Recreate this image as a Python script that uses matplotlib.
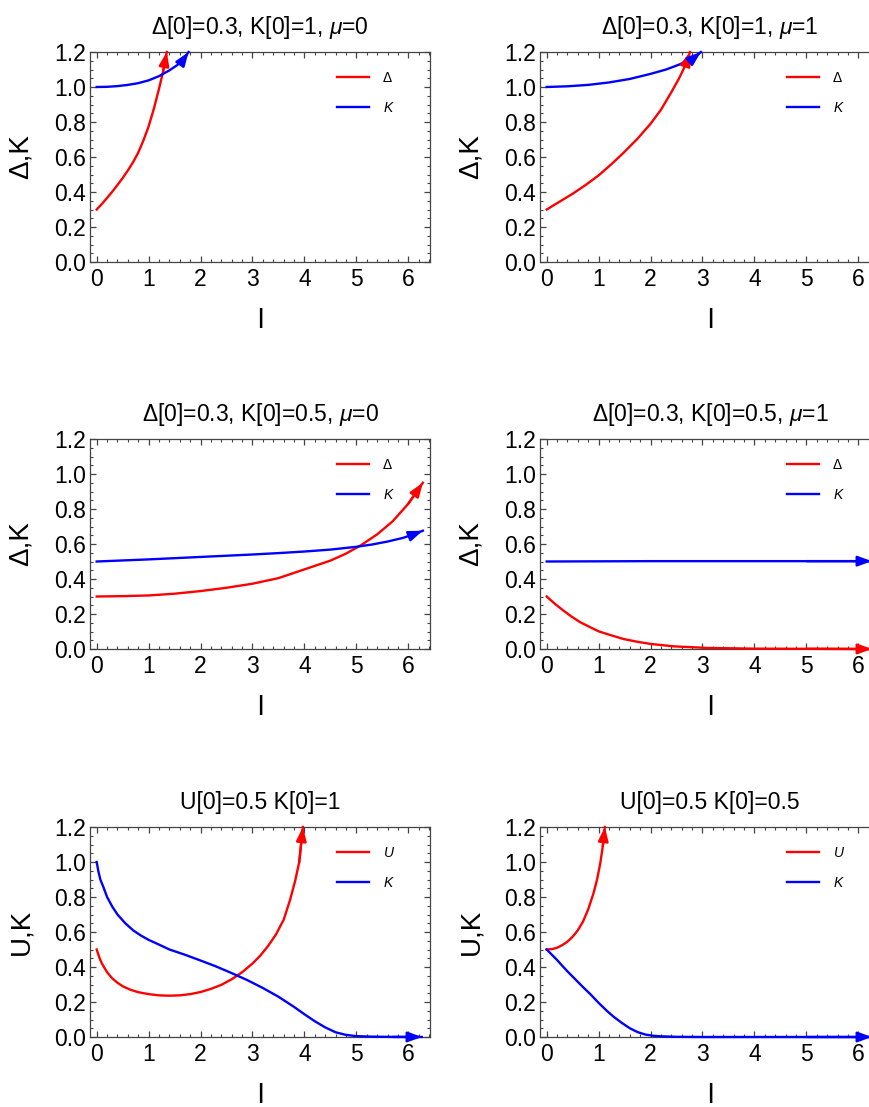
import numpy as np
import matplotlib
matplotlib.use("Agg")
from matplotlib import pyplot as plt

plt.rcParams['font.family'] = ['Liberation Sans', 'DejaVu Sans']
plt.rcParams['mathtext.fontset'] = 'custom'
plt.rcParams['mathtext.rm'] = 'Liberation Sans'
plt.rcParams['mathtext.it'] = 'Liberation Sans:italic'

# panel 1: Delta[0]=0.3, K[0]=1, mu=0
p1_d_l = [0, 0.1, 0.2, 0.3, 0.4, 0.5, 0.6, 0.7, 0.8, 0.9, 1.0, 1.1, 1.2, 1.28, 1.35]
p1_d_v = [0.30, 0.332, 0.366, 0.402, 0.44, 0.48, 0.523, 0.57, 0.625, 0.695, 0.775, 0.875, 0.99, 1.09, 1.2]
p1_k_l = [0, 0.2, 0.4, 0.6, 0.8, 1.0, 1.2, 1.4, 1.55, 1.68, 1.77]
p1_k_v = [1.0, 1.001, 1.005, 1.012, 1.022, 1.038, 1.062, 1.095, 1.125, 1.162, 1.2]

# panel 2: Delta[0]=0.3, K[0]=1, mu=1
p2_d_l = [0, 0.25, 0.5, 0.75, 1.0, 1.25, 1.5, 1.75, 2.0, 2.2, 2.4, 2.55, 2.68, 2.76]
p2_d_v = [0.30, 0.345, 0.39, 0.44, 0.495, 0.56, 0.63, 0.705, 0.79, 0.87, 0.97, 1.05, 1.13, 1.2]
p2_k_l = [0, 0.4, 0.8, 1.2, 1.6, 2.0, 2.3, 2.55, 2.75, 2.88, 2.97]
p2_k_v = [1.0, 1.004, 1.012, 1.026, 1.046, 1.075, 1.1, 1.128, 1.155, 1.178, 1.2]

# panel 3: Delta[0]=0.3, K[0]=0.5, mu=0
p3_d_l = [0, 0.5, 1, 1.5, 2, 2.5, 3, 3.5, 4, 4.5, 4.8, 5.1, 5.4, 5.7, 6.0, 6.28]
p3_d_v = [0.30, 0.302, 0.306, 0.316, 0.331, 0.35, 0.373, 0.405, 0.455, 0.505, 0.545, 0.595, 0.655, 0.73, 0.83, 0.95]
p3_k_l = [0, 1, 2, 3, 3.5, 4, 4.5, 5, 5.3, 5.6, 5.9, 6.1, 6.28]
p3_k_v = [0.50, 0.512, 0.526, 0.54, 0.548, 0.557, 0.568, 0.584, 0.597, 0.614, 0.635, 0.655, 0.676]

# panel 4: Delta[0]=0.3, K[0]=0.5, mu=1
p4_d_l = [0, 0.15, 0.32, 0.48, 0.645, 0.8, 1.0, 1.2, 1.48, 1.75, 2.0, 2.45, 3.1, 4, 5, 6.26]
p4_d_v = [0.30, 0.26, 0.22, 0.185, 0.153, 0.13, 0.101, 0.082, 0.057, 0.041, 0.029, 0.015, 0.006, 0.002, 0.001, 0.0]
p4_k_l = [0, 1, 2, 3, 4, 5, 6.26]
p4_k_v = [0.50, 0.501, 0.502, 0.502, 0.502, 0.502, 0.502]

# panel 5: U[0]=0.5 K[0]=1
p5_u_l = [0, 0.05, 0.1, 0.2, 0.3, 0.4, 0.5, 0.65, 0.8, 1.0, 1.2, 1.4, 1.6, 1.8, 2.0,
          2.2, 2.4, 2.6, 2.8, 3.0, 3.15, 3.3, 3.45, 3.6, 3.72, 3.82, 3.9, 3.97]
p5_u_v = [0.50, 0.455, 0.42, 0.37, 0.335, 0.31, 0.29, 0.27, 0.256, 0.245, 0.238, 0.236, 0.238, 0.245, 0.257,
          0.275, 0.298, 0.33, 0.37, 0.42, 0.465, 0.52, 0.585, 0.67, 0.78, 0.89, 1.0, 1.2]
p5_k_l = [0, 0.03, 0.07, 0.13, 0.2, 0.3, 0.4, 0.55, 0.7, 0.85, 1.0, 1.2, 1.4, 1.7, 2.0, 2.3, 2.6,
          2.9, 3.2, 3.5, 3.8, 4.0, 4.2, 4.4, 4.6, 4.8, 5.0, 5.3, 5.7, 6.26]
p5_k_v = [1.0, 0.95, 0.90, 0.856, 0.8, 0.745, 0.7, 0.65, 0.61, 0.58, 0.555, 0.528, 0.5, 0.47, 0.437, 0.403, 0.365,
          0.325, 0.28, 0.23, 0.172, 0.13, 0.09, 0.055, 0.027, 0.012, 0.005, 0.002, 0.0005, 0.0]

# panel 6: U[0]=0.5 K[0]=0.5
p6_u_l = [0, 0.1, 0.2, 0.3, 0.4, 0.5, 0.6, 0.7, 0.8, 0.9, 0.97, 1.03, 1.08, 1.12]
p6_u_v = [0.50, 0.502, 0.51, 0.525, 0.545, 0.573, 0.61, 0.66, 0.73, 0.82, 0.9, 0.99, 1.09, 1.2]
p6_k_l = [0, 0.1, 0.2, 0.3, 0.4, 0.5, 0.6, 0.7, 0.84, 1.0, 1.16, 1.3, 1.45, 1.6, 1.75, 1.9,
          2.05, 2.2, 2.5, 3, 4, 5, 6.26]
p6_k_v = [0.50, 0.47, 0.44, 0.407, 0.375, 0.345, 0.315, 0.285, 0.245, 0.195, 0.149, 0.113, 0.08, 0.05, 0.028, 0.014,
          0.007, 0.004, 0.001, 0, 0, 0, 0]

titles = ["Δ[0]=0.3, K[0]=1, $\\mu$=0", "Δ[0]=0.3, K[0]=1, $\\mu$=1",
          "Δ[0]=0.3, K[0]=0.5, $\\mu$=0", "Δ[0]=0.3, K[0]=0.5, $\\mu$=1",
          "U[0]=0.5 K[0]=1", "U[0]=0.5 K[0]=0.5"]
ylabels = ["Δ,K", "Δ,K", "Δ,K", "Δ,K", "U,K", "U,K"]
red_names = ["Δ", "Δ", "Δ", "Δ", "$U$", "$U$"]
blue_name = "$K$"

reds = [(p1_d_l, p1_d_v), (p2_d_l, p2_d_v), (p3_d_l, p3_d_v),
        (p4_d_l, p4_d_v), (p5_u_l, p5_u_v), (p6_u_l, p6_u_v)]
blues = [(p1_k_l, p1_k_v), (p2_k_l, p2_k_v), (p3_k_l, p3_k_v),
         (p4_k_l, p4_k_v), (p5_k_l, p5_k_v), (p6_k_l, p6_k_v)]

W, H = 870, 1107
fig = plt.figure(figsize=(W / 100, H / 100), dpi=100)

lefts = [90, 540]
tops = [52, 439, 827]
aw, ah = 340, 210
frame = '#444444'

for i in range(6):
    row, col = i // 2, i % 2
    ax = fig.add_axes([lefts[col] / W, (H - tops[row] - ah) / H, aw / W, ah / H])

    for (ll, vv), c, name in [(reds[i], 'red', red_names[i]), (blues[i], 'blue', blue_name)]:
        ax.plot(ll, vv, color=c, lw=1.7, label=name, clip_on=False, zorder=5)
        # arrow head at the end of each curve
        ax.annotate('', xy=(ll[-1], vv[-1]), xytext=(ll[-2], vv[-2]),
                    arrowprops=dict(arrowstyle='-|>,head_length=0.6,head_width=0.22',
                                    mutation_scale=14, color=c, lw=1.7,
                                    shrinkA=0, shrinkB=0),
                    annotation_clip=False, zorder=6)

    ax.set_xlim(-0.129, 6.418)
    ax.set_ylim(0, 1.2)
    ax.set_xticks(range(7))
    ax.set_xticks(np.arange(0, 6.5, 0.2), minor=True)
    ax.set_yticks(np.arange(0, 1.21, 0.2))
    ax.set_yticks(np.arange(0, 1.21, 0.05), minor=True)
    ax.set_yticklabels(["%.1f" % t for t in np.arange(0, 1.21, 0.2)])
    ax.tick_params(which='both', direction='in', top=True, right=True,
                   color=frame, labelsize=16.5)
    ax.tick_params(which='major', length=4, width=0.9)
    ax.tick_params(which='minor', length=2.2, width=0.8)
    ax.tick_params(axis='x', pad=4)
    ax.tick_params(axis='y', pad=3)
    for s in ax.spines.values():
        s.set_color(frame)
        s.set_linewidth(0.9)

    ax.set_title(titles[i], fontsize=16.5, pad=13)
    ax.set_ylabel(ylabels[i], fontsize=20)
    ax.yaxis.set_label_coords(-0.165, 0.5)
    ax.set_xlabel("l", fontsize=20)
    ax.xaxis.set_label_coords(0.5, -0.22)

    leg = ax.legend(loc='upper left', bbox_to_anchor=(0.726, 0.91), frameon=False,
                    fontsize=10, handlelength=2.3, handletextpad=1.0,
                    labelspacing=1.15, borderpad=0, borderaxespad=0)
    for ln in leg.get_lines():
        ln.set_linewidth(1.7)

fig.savefig("out.png", dpi=100)
